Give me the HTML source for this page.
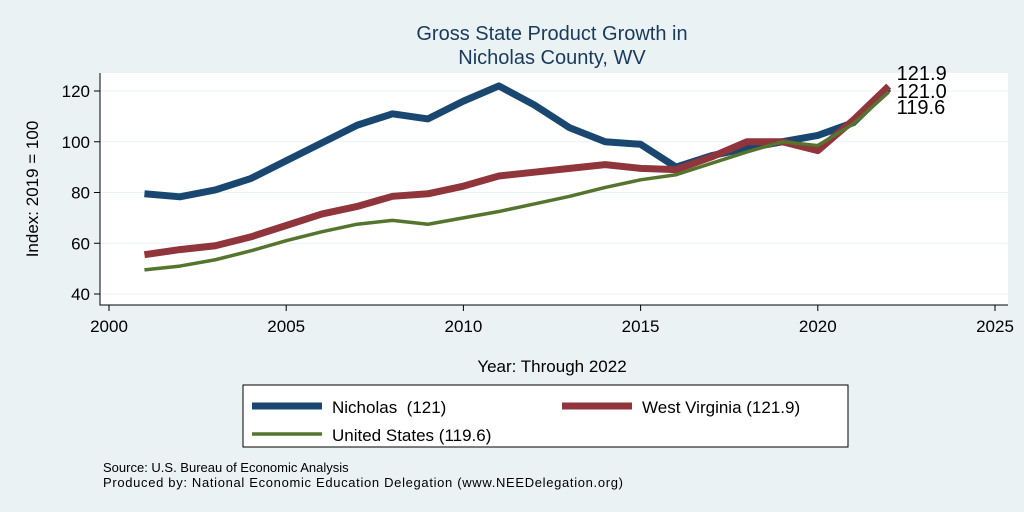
<!DOCTYPE html>
<html><head><meta charset="utf-8"><style>
body{margin:0;background:#eaf2f3;font-family:"Liberation Sans",sans-serif;}
svg{display:block}
</style></head><body>
<svg id="chart" width="1024" height="512" font-family="Liberation Sans, sans-serif">
<rect width="1024" height="512" fill="#eaf2f3"/>
<rect x="100" y="73" width="908" height="232" fill="#ffffff"/>
<text x="552" y="40" text-anchor="middle" font-size="20" fill="#1a3a5c">Gross State Product Growth in</text>
<text x="552" y="64" text-anchor="middle" font-size="20" fill="#1a3a5c">Nicholas County, WV</text>
<g id="grid"></g><g id="axes"></g><g id="series"></g><g id="endlabels"></g>
<text x="552" y="372" text-anchor="middle" font-size="17">Year: Through 2022</text>
<text transform="translate(38,189) rotate(-90)" text-anchor="middle" font-size="17">Index: 2019 = 100</text>
<g>
<rect x="243" y="385" width="605" height="62" fill="#fff" stroke="#000" stroke-width="1"/>
<line x1="252" y1="406" x2="322" y2="406" stroke="#1a476f" stroke-width="7"/>
<text x="332" y="413" font-size="17">Nicholas&#160; (121)</text>
<line x1="562" y1="406" x2="632" y2="406" stroke="#90353b" stroke-width="7"/>
<text x="642" y="413" font-size="17">West Virginia (121.9)</text>
<line x1="252" y1="434" x2="322" y2="434" stroke="#55752f" stroke-width="3.5"/>
<text x="332" y="441" font-size="17">United States (119.6)</text>
</g>
<text x="103" y="472" font-size="13">Source: U.S. Bureau of Economic Analysis</text>
<text x="103" y="487" font-size="13" textLength="520">Produced by: National Economic Education Delegation (www.NEEDelegation.org)</text>
</svg>
<script>
const years=[2001,2002,2003,2004,2005,2006,2007,2008,2009,2010,2011,2012,2013,2014,2015,2016,2017,2018,2019,2020,2021,2022];
const nicholas=[79.5,78.3,81,85.5,92.5,99.5,106.5,111,109,116,122,114.5,105.5,100,99,90,94.5,97.5,100,102.5,107.5,121];
const westVirginia=[55.5,57.5,59,62.5,67,71.5,74.5,78.5,79.5,82.5,86.5,88,89.5,91,89.5,89,94,100,100,96.5,108.5,121.9];
const unitedStates=[49.5,51,53.5,57,61,64.5,67.5,69,67.5,70,72.5,75.5,78.5,82,85,87,91.5,96,100,98.5,107,119.6];
const xTicks=[2000,2005,2010,2015,2020,2025];
const yTicks=[40,60,80,100,120];
const endLabels=["121.9","121.0","119.6"];
const NS="http://www.w3.org/2000/svg";
const xs=v=>109+(v-2000)*(995-109)/25;
const ys=v=>294-(v-40)*(294-91)/80;
function mk(t,a,p){const e=document.createElementNS(NS,t);for(const k in a)e.setAttribute(k,a[k]);p.appendChild(e);return e;}
const grid=document.getElementById('grid'),axes=document.getElementById('axes'),ser=document.getElementById('series'),el=document.getElementById('endlabels');
yTicks.forEach(v=>{
 const g=mk('line',{x1:100,x2:1008,y1:ys(v),y2:ys(v),stroke:'#eaf2f3','stroke-width':1},grid);
 
 
 const t=mk('line',{x1:94,x2:100,y1:ys(v),y2:ys(v),stroke:'#000'},axes);
 
 
 const l=mk('text',{x:90,y:ys(v)+6,'text-anchor':'end','font-size':17},axes);l.textContent=v;
 
 
});
xTicks.forEach(v=>{
 const t=mk('line',{x1:xs(v),x2:xs(v),y1:305,y2:311,stroke:'#000'},axes);
 
 
 const l=mk('text',{x:xs(v),y:332,'text-anchor':'middle','font-size':17},axes);l.textContent=v;
 
 
});
const ax=mk('path',{d:'M100 73 V305 H1008',fill:'none',stroke:'#000'},axes);


function line(vals,col,w,name){
 const p=mk('polyline',{points:vals.map((v,i)=>xs(years[i])+','+ys(v)).join(' '),fill:'none',stroke:col,'stroke-width':w,'stroke-linejoin':'round'},ser);
 
 
}
line(nicholas,'#1a476f',7,'line-nicholas');
line(westVirginia,'#90353b',7,'line-west-virginia');
line(unitedStates,'#55752f',3.5,'line-united-states');
const lx=xs(years[years.length-1])+8;
[80,98,114].forEach((y,i)=>{
 const t=mk('text',{x:lx,y:y,'font-size':20},el);t.textContent=endLabels[i];
 
 
});
</script>
</body></html>
